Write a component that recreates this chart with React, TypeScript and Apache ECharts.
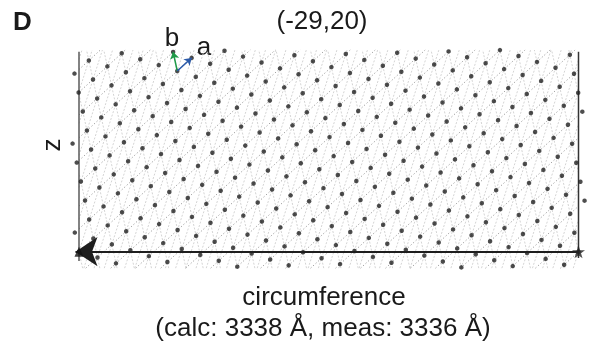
import React, { useEffect, useRef } from "react";
import * as echarts from "echarts";

// ---- data (Å) ----
const titleLabel = "(-29,20)";
const helixIndex = [-29, 20]; // circumferential vector C = -29 a + 20 b
const circumferenceCalc = 3338; // Å
const circumferenceMeas = 3336; // Å
const latticeA = [95.98, 87.44]; // Å, lattice vector a
const latticeB = [-27.74, 126.83]; // Å, lattice vector b
const arrowOriginIndex = [-21, 24]; // lattice point where the a/b arrows start
const pointWindowX = [-3388, 50]; // extent of drawn lattice points (Å, origin at star)
const pointWindowY = [-105, 1348];
const hatchWindowX = [-circumferenceCalc, 0];
const hatchWindowY = [-110, 1348];
const boundaryY = [-62, 1336];

// ---- layout ----
const W = 592;
const H = 345;
const PX_PER_A = 499.5 / circumferenceCalc;
const ORIGIN_PX = [578.5, 251.7];
const X_RANGE = [-3400, 80];
const Y_RANGE = [-130, 1370];
const FONT = "'Liberation Sans', Arial, Helvetica, sans-serif";

const lp = (i: number, j: number): number[] => [
  i * latticeA[0] + j * latticeB[0],
  i * latticeA[1] + j * latticeB[1],
];

function clipLine(p: number[], d: number[], xr: number[], yr: number[]) {
  let t0 = -Infinity;
  let t1 = Infinity;
  const ranges = [xr, yr];
  for (let k = 0; k < 2; k++) {
    const [lo, hi] = ranges[k];
    if (Math.abs(d[k]) < 1e-9) {
      if (p[k] < lo || p[k] > hi) return null;
    } else {
      const a = (lo - p[k]) / d[k];
      const b = (hi - p[k]) / d[k];
      t0 = Math.max(t0, Math.min(a, b));
      t1 = Math.min(t1, Math.max(a, b));
    }
  }
  if (t0 >= t1) return null;
  return [
    [p[0] + t0 * d[0], p[1] + t0 * d[1]],
    [p[0] + t1 * d[0], p[1] + t1 * d[1]],
  ];
}

function family(dir: number[], base: (k: number) => number[]) {
  const out: any[] = [];
  for (let k = -120; k <= 120; k++) {
    const seg = clipLine(base(k), dir, hatchWindowX, hatchWindowY);
    if (seg) out.push({ coords: seg });
  }
  return out;
}

export default function App() {
  const ref = useRef<HTMLDivElement>(null);
  useEffect(() => {
    if (!ref.current) return;
    const chart = echarts.init(ref.current, undefined, { renderer: "svg", width: W, height: H });

    const points: number[][] = [];
    for (let i = -80; i <= 80; i++) {
      for (let j = -80; j <= 80; j++) {
        const [x, y] = lp(i, j);
        if (x >= pointWindowX[0] && x <= pointWindowX[1] && y >= pointWindowY[0] && y <= pointWindowY[1]) {
          points.push([x, y]);
        }
      }
    }
    const ab = [latticeA[0] + latticeB[0], latticeA[1] + latticeB[1]];
    const famA = family(latticeA, (k) => lp(0, k));
    const famB = family(latticeB, (k) => lp(k, 0));
    const famAB = family(ab, (k) => lp(0, k));

    const circ = lp(helixIndex[0], helixIndex[1]);
    const leftEnd = [-circumferenceCalc, 0];
    const p0 = lp(arrowOriginIndex[0], arrowOriginIndex[1]);
    const aEnd = lp(arrowOriginIndex[0] + 1, arrowOriginIndex[1]);
    const bEnd = lp(arrowOriginIndex[0], arrowOriginIndex[1] + 1);

    const gridLeft = ORIGIN_PX[0] + X_RANGE[0] * PX_PER_A;
    const gridTop = ORIGIN_PX[1] - Y_RANGE[1] * PX_PER_A;
    const gridW = (X_RANGE[1] - X_RANGE[0]) * PX_PER_A;
    const gridH = (Y_RANGE[1] - Y_RANGE[0]) * PX_PER_A;

    const starPath =
      "path://M50,0 L61.8,35.1 L98.9,35.1 L68.8,56.9 L80.3,91.9 L50,70.2 L19.7,91.9 L31.2,56.9 L1.1,35.1 L38.2,35.1 Z";

    const txt = (text: string, x: number, y: number, extra: any = {}) => ({
      type: "text",
      x,
      y,
      rotation: extra.rotation || 0,
      style: {
        text,
        fill: "#1a1a1a",
        fontSize: extra.fontSize || 26,
        fontFamily: FONT,
        fontWeight: extra.fontWeight || "normal",
        textAlign: extra.align || "center",
        textVerticalAlign: "middle",
        align: extra.align || "center",
        verticalAlign: "middle",
      },
    });

    chart.setOption({
      animation: false,
      grid: { left: gridLeft, top: gridTop, width: gridW, height: gridH, containLabel: false },
      xAxis: { type: "value", min: X_RANGE[0], max: X_RANGE[1], show: false },
      yAxis: { type: "value", min: Y_RANGE[0], max: Y_RANGE[1], show: false },
      series: [
        {
          type: "lines",
          coordinateSystem: "cartesian2d",
          silent: true,
          z: 1,
          data: famB,
          lineStyle: { color: "#d4d4d4", width: 1, type: [2, 1.6], opacity: 1 },
        },
        {
          type: "lines",
          coordinateSystem: "cartesian2d",
          silent: true,
          z: 1,
          data: famAB,
          lineStyle: { color: "#d4d4d4", width: 1, type: [2, 1.6], opacity: 1 },
        },
        {
          type: "lines",
          coordinateSystem: "cartesian2d",
          silent: true,
          z: 2,
          data: famA,
          lineStyle: { color: "#9a9a9a", width: 1, type: [1.2, 2.2], opacity: 1 },
        },
        {
          type: "line",
          silent: true,
          z: 3,
          showSymbol: false,
          data: [
            [-circumferenceCalc, boundaryY[0]],
            [-circumferenceCalc, boundaryY[1]],
          ],
          lineStyle: { color: "#5a5a5a", width: 1.5 },
        },
        {
          type: "line",
          silent: true,
          z: 3,
          showSymbol: false,
          data: [
            [0, boundaryY[0] + 20],
            [0, boundaryY[1]],
          ],
          lineStyle: { color: "#333", width: 1.5 },
        },
        {
          type: "scatter",
          silent: true,
          z: 4,
          symbol: "circle",
          symbolSize: 4.5,
          itemStyle: { color: "#222" },
          data: points,
        },
        {
          type: "lines",
          coordinateSystem: "cartesian2d",
          silent: true,
          z: 5,
          symbol: ["none", "arrow"],
          symbolSize: [10, 22],
          lineStyle: { color: "#1e1e1e", width: 2, opacity: 1 },
          data: [{ coords: [[0, 0], [circ[0] - 3.5 / PX_PER_A - (circ[0] + circumferenceCalc), 0]] }],
        },
        {
          type: "scatter",
          silent: true,
          z: 6,
          symbol: "triangle",
          symbolSize: [9, 10],
          itemStyle: { color: "#111" },
          data: [leftEnd],
        },
        {
          type: "scatter",
          silent: true,
          z: 6,
          symbol: starPath,
          symbolSize: 13,
          itemStyle: { color: "#222" },
          data: [[0, 0]],
        },
        {
          type: "lines",
          coordinateSystem: "cartesian2d",
          silent: true,
          z: 7,
          symbol: ["none", "arrow"],
          symbolSize: [5, 7],
          lineStyle: { color: "#1f9a48", width: 1.5, opacity: 1 },
          data: [{ coords: [p0, bEnd] }],
        },
        {
          type: "lines",
          coordinateSystem: "cartesian2d",
          silent: true,
          z: 7,
          symbol: ["none", "arrow"],
          symbolSize: [5, 7],
          lineStyle: { color: "#2b5aa8", width: 1.5, opacity: 1 },
          data: [{ coords: [p0, aEnd] }],
        },
      ],
      graphic: [
        txt("D", 13, 21, { fontWeight: "bold", fontSize: 26, align: "left" }),
        txt(titleLabel, 322, 20),
        txt("b", 172, 37),
        txt("a", 204, 46),
        txt("z", 51, 145, { rotation: Math.PI / 2 }),
        txt("circumference", 324, 296),
        txt(`(calc: ${circumferenceCalc} Å, meas: ${circumferenceMeas} Å)`, 323, 327),
      ],
    });
    return () => chart.dispose();
  }, []);
  return <div ref={ref} style={{ position: "fixed", left: 0, top: 0, width: W, height: H }} />;
}
